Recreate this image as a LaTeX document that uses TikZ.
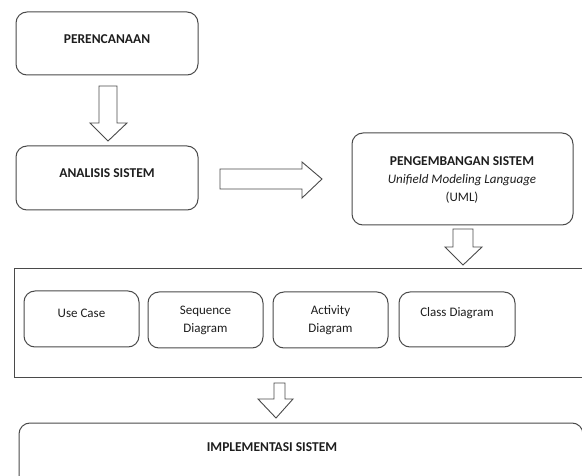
\documentclass[tikz,border=0pt]{standalone}
\usepackage{fontspec}
\setmainfont{Carlito}
\definecolor{ln}{HTML}{4A4A4A}
\definecolor{tx}{HTML}{1E1E1E}
\begin{document}
\begin{tikzpicture}[x=1pt,y=-1pt,
  box/.style={draw=ln,line width=1pt,rounded corners=11pt},
  blk/.style={draw=ln,line width=0.9pt,fill=white,line join=miter},
  ttl/.style={font=\fontsize{13.5}{16}\selectfont\bfseries,text=tx,inner sep=0pt},
  lbl/.style={font=\fontsize{13}{18}\selectfont,text=tx,inner sep=0pt,align=center}]
\useasboundingbox (0,0) rectangle (582,476);
\clip (0,0) rectangle (582,476);
\fill[white] (0,0) rectangle (582,476);
% top boxes
\draw[box] (16,12) rectangle (198,75);
\node[ttl] (p) at (107,39) {PERENCANAAN};
\draw[box] (16,146) rectangle (198,210);
\node[ttl] (a) at (107,173) {ANALISIS SISTEM};
\draw[box] (352,133) rectangle (573,225);
\node[ttl] (g) at (462,161) {PENGEMBANGAN SISTEM};
\node[lbl,font=\fontsize{13}{18}\selectfont\itshape] (g2) at (462,180) {Unifield Modeling Language};
\node[lbl] (g3) at (462,198) {(UML)};
% block arrows
\draw[blk] (99,86) -- (117,86) -- (117,123) -- (127,123) -- (108,141) -- (90,123) -- (99,123) -- cycle;
\draw[blk] (220,169) -- (302,169) -- (302,162) -- (322,179) -- (302,198) -- (302,189) -- (220,189) -- cycle;
\draw[blk] (453,229) -- (473,229) -- (473,247) -- (482,247) -- (463,265) -- (445,247) -- (453,247) -- cycle;
% UML container
\draw[draw=ln,line width=1pt] (14,269) rectangle (600,377);
\draw[box] (24,291) rectangle (139,347);
\node[lbl] (uc) at (81.5,313) {Use Case};
\draw[box] (148,292) rectangle (263,348);
\node[lbl] (sd) at (205.5,320) {Sequence\\Diagram};
\draw[box] (273,292) rectangle (388,348);
\node[lbl] (ad) at (330.5,320) {Activity\\Diagram};
\draw[box] (399,292) rectangle (515,347);
\node[lbl] (cd) at (457,313) {Class Diagram};
\draw[blk] (274,383) -- (285,383) -- (285,399) -- (293,399) -- (276,418) -- (258,399) -- (274,399) -- cycle;
% implementasi
\draw[box] (19,423) rectangle (583,500);
\node[ttl] (i) at (272,447) {IMPLEMENTASI SISTEM};
\end{tikzpicture}
\end{document}
